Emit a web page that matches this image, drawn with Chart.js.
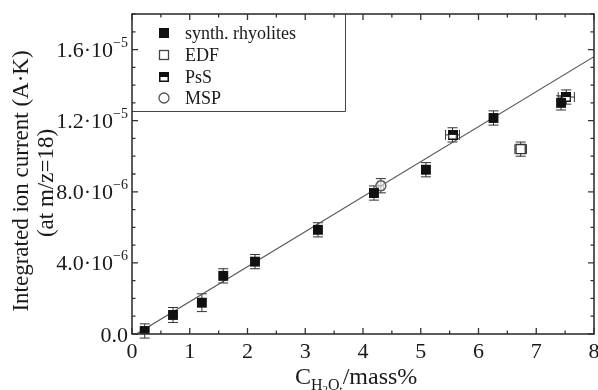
<!DOCTYPE html>
<html><head><meta charset="utf-8">
<script src="https://cdn.jsdelivr.net/npm/chart.js@4"></script>
<style>html,body{margin:0;padding:0;background:#fff}#c{display:block}</style>
</head><body>
<canvas id="c" width="598" height="390"></canvas>
<script>
// ---- data ----
const synthX = [0.22, 0.71, 1.21, 1.58, 2.13, 3.22, 4.19, 5.09, 6.26, 7.43];
const synthY = [0.17e-6, 1.07e-6, 1.76e-6, 3.27e-6, 4.07e-6, 5.86e-6, 7.93e-6, 9.24e-6, 12.15e-6, 13.0e-6];
const synthYErr = [0.4e-6, 0.42e-6, 0.5e-6, 0.4e-6, 0.4e-6, 0.4e-6, 0.4e-6, 0.4e-6, 0.4e-6, 0.4e-6];
const synthXErr = [0, 0, 0, 0, 0, 0, 0, 0, 0, 0];
const edfX = [6.73];
const edfY = [10.4e-6];
const edfYErr = [0.4e-6];
const edfXErr = [0.1];
const pssX = [5.55, 7.52];
const pssY = [11.2e-6, 13.33e-6];
const pssYErr = [0.4e-6, 0.4e-6];
const pssXErr = [0.12, 0.14];
const mspX = [4.31];
const mspY = [8.34e-6];
const mspYErr = [0.4e-6];
const mspXErr = [0.05];
const fitX = [0, 8];
const fitY = [-0.15e-6, 15.6e-6];
const xTickVals = [0,1,2,3,4,5,6,7,8];
const xTickLabels = ['0','1','2','3','4','5','6','7','8'];
const yTickVals = [0, 4e-6, 8e-6, 1.2e-5, 1.6e-5];
const yTickMain = ['0.0', '4.0·10', '8.0·10', '1.2·10', '1.6·10'];
const yTickExp = ['', '−6', '−6', '−5', '−5'];
const legendLabels = ['synth. rhyolites', 'EDF', 'PsS', 'MSP'];

const FONT = '"Liberation Serif", "Times New Roman", serif';
const INK = '#1a1a1a';

function pts(xs, ys){ return xs.map((x,i)=>({x:x, y:ys[i]})); }

// half-filled square marker for PsS
function makePsS(size){
  const c = document.createElement('canvas');
  c.width = size; c.height = size;
  const g = c.getContext('2d');
  g.fillStyle = '#fff'; g.fillRect(0,0,size,size);
  g.fillStyle = '#111'; g.fillRect(0,0,size,Math.round(size*0.5));
  g.strokeStyle = '#111'; g.lineWidth = 1.5;
  g.strokeRect(0.75,0.75,size-1.5,size-1.5);
  return c;
}
const pssImg = makePsS(10);

const errSets = [
  {x:synthX, y:synthY, ex:synthXErr, ey:synthYErr},
  {x:edfX, y:edfY, ex:edfXErr, ey:edfYErr},
  {x:pssX, y:pssY, ex:pssXErr, ey:pssYErr},
  {x:mspX, y:mspY, ex:mspXErr, ey:mspYErr}
];

const decoPlugin = {
  id: 'deco',
  beforeDatasetsDraw(chart){
    const ctx = chart.ctx, xs = chart.scales.x, ys = chart.scales.y;
    ctx.save();
    ctx.strokeStyle = '#333'; ctx.lineWidth = 1;
    errSets.forEach(s=>{
      s.x.forEach((xv,i)=>{
        const px = xs.getPixelForValue(xv), py = ys.getPixelForValue(s.y[i]);
        if (s.ey[i] > 0){
          const t = ys.getPixelForValue(s.y[i]+s.ey[i]), b = ys.getPixelForValue(s.y[i]-s.ey[i]);
          ctx.beginPath();
          ctx.moveTo(px,t); ctx.lineTo(px,b);
          ctx.moveTo(px-5,t); ctx.lineTo(px+5,t);
          ctx.moveTo(px-5,b); ctx.lineTo(px+5,b);
          ctx.stroke();
        }
        if (s.ex[i] > 0){
          const l = xs.getPixelForValue(xv-s.ex[i]), r = xs.getPixelForValue(xv+s.ex[i]);
          ctx.beginPath();
          ctx.moveTo(l,py); ctx.lineTo(r,py);
          ctx.moveTo(l,py-5); ctx.lineTo(l,py+5);
          ctx.moveTo(r,py-5); ctx.lineTo(r,py+5);
          ctx.stroke();
        }
      });
    });
    ctx.restore();
  },
  afterDraw(chart){
    const ctx = chart.ctx, a = chart.chartArea, xs = chart.scales.x, ys = chart.scales.y;
    ctx.save();
    // legend box
    ctx.strokeStyle = '#444'; ctx.lineWidth = 1;
    ctx.beginPath();
    ctx.moveTo(a.left, 111.5); ctx.lineTo(345.5, 111.5); ctx.lineTo(345.5, a.top);
    ctx.stroke();
    const rows = [33, 55, 77, 98];
    const mx = 164;
    ctx.fillStyle = '#111';
    ctx.fillRect(mx-5, rows[0]-5, 10, 10);
    ctx.fillStyle = '#fff'; ctx.strokeStyle = '#444'; ctx.lineWidth = 1.3;
    ctx.fillRect(mx-5, rows[1]-5, 10, 10); ctx.strokeRect(mx-4.5, rows[1]-4.5, 9, 9);
    ctx.drawImage(pssImg, mx-5, rows[2]-5);
    ctx.beginPath(); ctx.arc(mx, rows[3], 5, 0, Math.PI*2); ctx.fillStyle='#fff'; ctx.fill();
    ctx.strokeStyle = '#555'; ctx.stroke();
    ctx.fillStyle = INK; ctx.font = '18px ' + FONT; ctx.textBaseline = 'middle'; ctx.textAlign = 'left';
    legendLabels.forEach((t,i)=> ctx.fillText(t, 185, rows[i]+1));

    // frame
    ctx.strokeStyle = '#333'; ctx.lineWidth = 1.6;
    ctx.strokeRect(a.left, a.top, a.right-a.left, a.bottom-a.top);
    // ticks (inward)
    ctx.lineWidth = 1.3;
    ctx.beginPath();
    for (let v = 0; v <= 8.0001; v += 0.5){
      const px = xs.getPixelForValue(v);
      const L = (Math.abs(v - Math.round(v)) < 1e-6) ? 6 : 3.5;
      ctx.moveTo(px, a.bottom); ctx.lineTo(px, a.bottom - L);
      ctx.moveTo(px, a.top); ctx.lineTo(px, a.top + L);
    }
    for (let k = 0; k <= 18; k++){
      const py = ys.getPixelForValue(k*1e-6);
      const L = (k % 4 === 0) ? 6 : 3.5;
      ctx.moveTo(a.left, py); ctx.lineTo(a.left + L, py);
      ctx.moveTo(a.right, py); ctx.lineTo(a.right - L, py);
    }
    ctx.stroke();

    // x tick labels
    ctx.fillStyle = INK; ctx.textBaseline = 'alphabetic'; ctx.textAlign = 'center';
    ctx.font = '22px ' + FONT;
    xTickVals.forEach((v,i)=>{
      ctx.fillText(xTickLabels[i], xs.getPixelForValue(v), a.bottom + 24);
    });

    // y tick labels with superscript exponents
    ctx.textAlign = 'right';
    yTickVals.forEach((v,i)=>{
      const py = ys.getPixelForValue(v);
      const xr = a.left - 4;
      ctx.font = '14px ' + FONT;
      const ew = yTickExp[i] ? ctx.measureText(yTickExp[i]).width : 0;
      if (yTickExp[i]) ctx.fillText(yTickExp[i], xr, py - 3);
      ctx.font = '22px ' + FONT;
      ctx.fillText(yTickMain[i], xr - ew, py + 7.5);
    });

    // x title with subscripts
    ctx.textAlign = 'left';
    const parts = [
      {t:'C', f:24, dy:0},
      {t:'H', f:16, dy:6},
      {t:'2', f:11, dy:9},
      {t:'O', f:16, dy:6},
      {t:'t', f:11, dy:9},
      {t:'/mass%', f:24, dy:0}
    ];
    parts.forEach(p=>{ ctx.font = p.f+'px '+FONT; p.w = ctx.measureText(p.t).width; });
    let x0 = 295;
    const base = 384;
    parts.forEach(p=>{ ctx.font = p.f+'px '+FONT; ctx.fillText(p.t, x0, base + p.dy); x0 += p.w; });

    // y title
    ctx.font = '23px ' + FONT; ctx.textAlign = 'center'; ctx.textBaseline = 'middle';
    ctx.save();
    ctx.translate(22, 181); ctx.rotate(-Math.PI/2);
    ctx.fillText('Integrated ion current (A·K)', 0, 0);
    ctx.restore();
    ctx.save();
    ctx.translate(47, 183); ctx.rotate(-Math.PI/2);
    ctx.fillText('(at m/z=18)', 0, 0);
    ctx.restore();
    ctx.restore();
  }
};

new Chart(document.getElementById('c'), {
  type: 'scatter',
  data: {
    datasets: [
      {label:'fit', type:'line', data: pts(fitX, fitY), borderColor:'#555', borderWidth:1.2, pointRadius:0, fill:false, order:5},
      {label:legendLabels[0], data: pts(synthX, synthY), pointStyle:'rect', pointRadius:7, backgroundColor:'#111', borderColor:'#111', borderWidth:0, order:1},
      {label:legendLabels[1], data: pts(edfX, edfY), pointStyle:'rect', pointRadius:6.5, backgroundColor:'#fff', borderColor:'#333', borderWidth:1.3, order:1},
      {label:legendLabels[2], data: pts(pssX, pssY), pointStyle:pssImg, order:1},
      {label:legendLabels[3], data: pts(mspX, mspY), pointStyle:'circle', pointRadius:5, backgroundColor:'rgba(255,255,255,0.6)', borderColor:'#555', borderWidth:1.3, order:1}
    ]
  },
  options: {
    responsive: false,
    animation: false,
    layout: {autoPadding: false, padding: {top: 14, right: 4, left: 0, bottom: 0}},
    plugins: {legend: {display:false}, tooltip: {enabled:false}},
    scales: {
      x: {
        type:'linear', min:0, max:8,
        grid:{display:false, drawTicks:false}, border:{display:false},
        afterBuildTicks(s){ s.ticks = xTickVals.map(v=>({value:v})); },
        afterFit(s){ s.height = 56; },
        ticks:{ display:false }
      },
      y: {
        type:'linear', min:0, max:1.8e-5,
        grid:{display:false, drawTicks:false}, border:{display:false},
        afterBuildTicks(s){ s.ticks = yTickVals.map(v=>({value:v})); },
        afterFit(s){ s.width = 132; },
        ticks:{ display:false }
      }
    }
  },
  plugins: [decoPlugin]
});
</script>
</body></html>
